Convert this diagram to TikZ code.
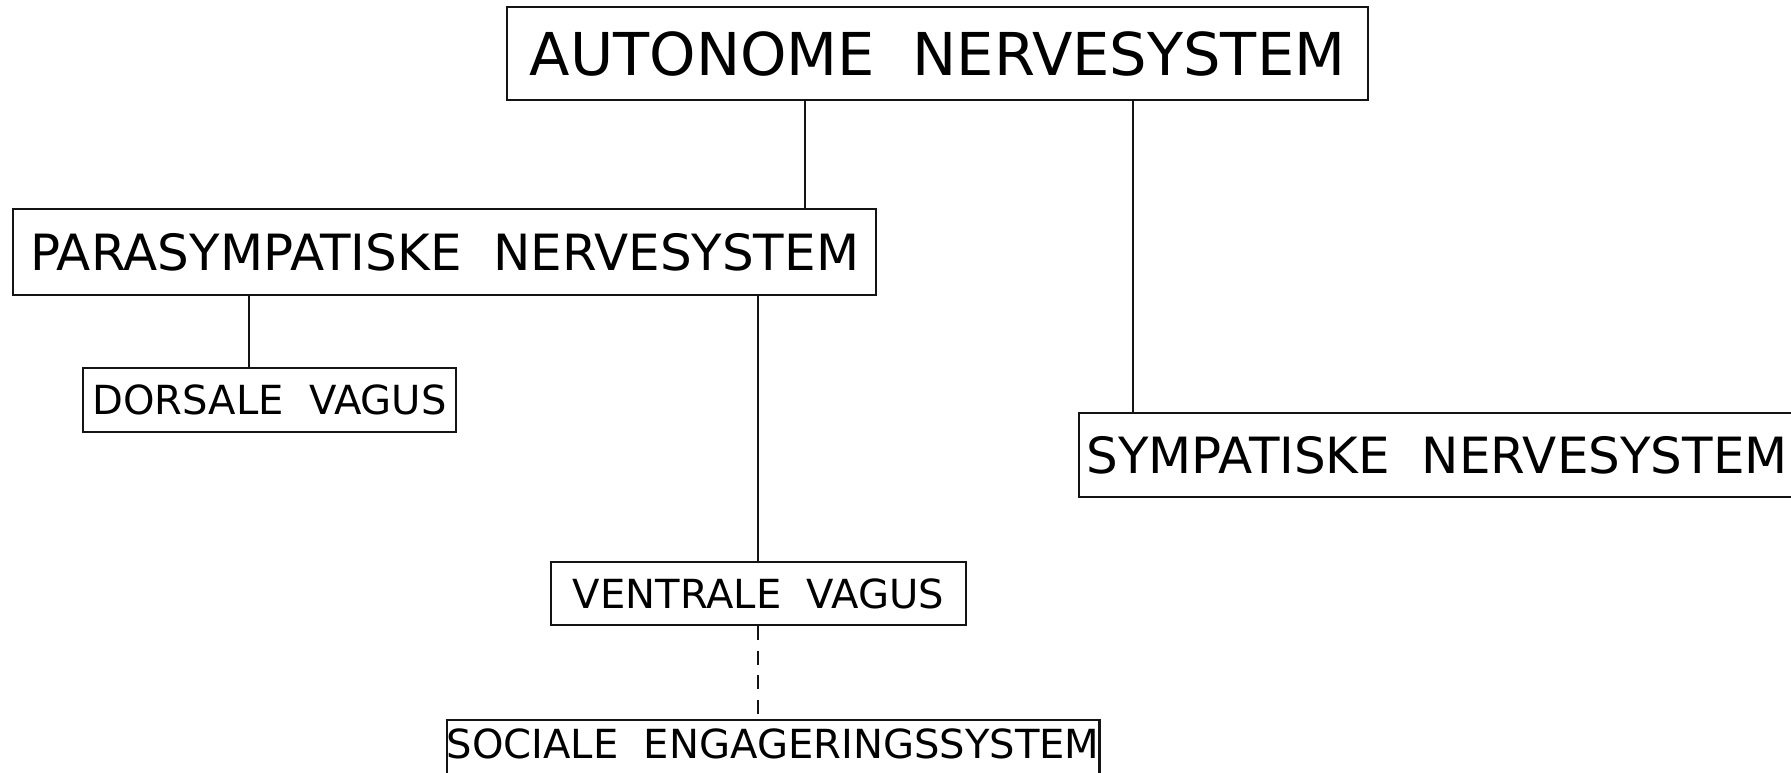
\documentclass[tikz,border=0pt]{standalone}
\usepackage{fontspec}
\setmainfont{DejaVu Sans}
\usepackage{tikz}
\usetikzlibrary{positioning, calc}
\definecolor{LineColor}{RGB}{20,20,20}
\tikzstyle{link} = [LineColor, line width=0.6pt]
\tikzstyle{dashlink} = [LineColor, line width=0.6pt, dash pattern=on 4pt off 3pt]
\tikzset{
  box/.style={draw=LineColor, line width=0.6pt, rectangle, inner sep=0pt, align=center},
  big box/.style={box, font=\fontsize{16.8}{18}\selectfont},
  mid box/.style={box, font=\fontsize{14.2}{16}\selectfont},
  small box/.style={box, font=\fontsize{11.4}{13}\selectfont}
}

\begin{document}
\begin{tikzpicture}[x=0.01cm, y=-0.01cm]
    % Frame of the picture
    \useasboundingbox (0,0) rectangle (1791,773);
    \clip (0,0) rectangle (1791,773);

    % Top level
    \node[big box, minimum width=8.61cm, minimum height=0.93cm] (auto) at (937.5,53.5) {AUTONOME\ \ NERVESYSTEM};

    % Second level
    \node[mid box, minimum width=8.63cm, minimum height=0.86cm] (para) at (444.5,252) {PARASYMPATISKE\ \ NERVESYSTEM};
    \node[mid box, minimum width=7.16cm, minimum height=0.84cm] (symp) at (1437,455) {SYMPATISKE\ \ NERVESYSTEM};

    % Vagus branches
    \node[small box, minimum width=3.73cm, minimum height=0.64cm] (dorsal) at (269.5,400) {DORSALE\ \ VAGUS};
    \node[small box, minimum width=4.15cm, minimum height=0.63cm] (ventral) at (758.5,593.5) {VENTRALE\ \ VAGUS};
    \node[small box, minimum width=6.52cm, minimum height=0.8cm, text depth=0.33cm] (social) at (773,760) {SOCIALE\ \ ENGAGERINGSSYSTEM};

    % x positions of the connectors
    \coordinate (xpara) at (805,0);
    \coordinate (xsymp) at (1133,0);
    \coordinate (xdorsal) at (249,0);
    \coordinate (xventral) at (758,0);

    % Connectors
    \draw[link] (auto.south -| xpara) -- (para.north -| xpara);
    \draw[link] (auto.south -| xsymp) -- (symp.north -| xsymp);
    \draw[link] (para.south -| xdorsal) -- (dorsal.north -| xdorsal);
    \draw[link] (para.south -| xventral) -- (ventral.north -| xventral);
    \draw[dashlink] (ventral.south -| xventral) -- (social.north -| xventral);
\end{tikzpicture}
\end{document}
